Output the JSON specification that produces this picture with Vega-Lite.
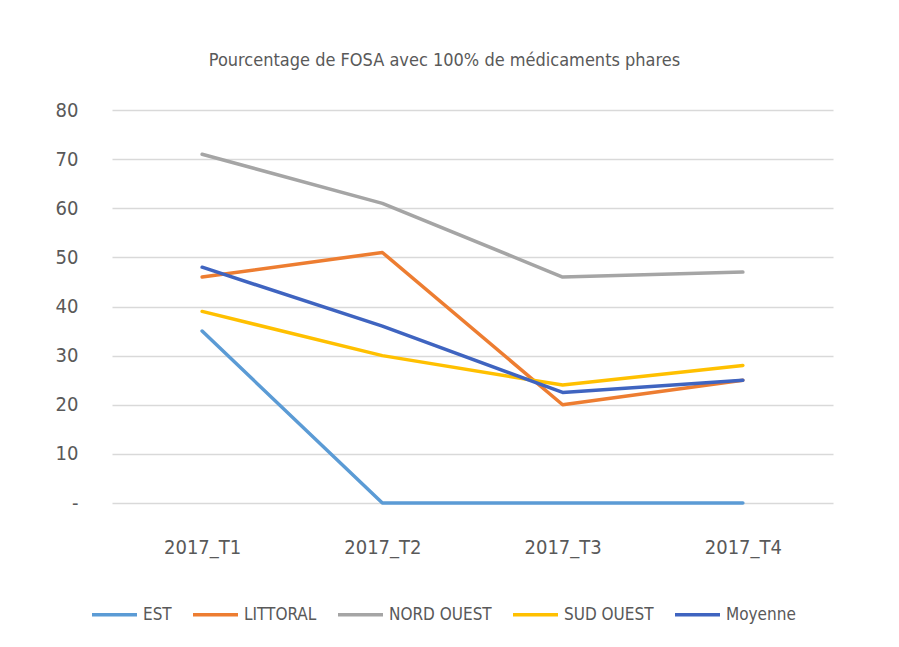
{
  "$schema": "https://vega.github.io/schema/vega-lite/v6.json",
  "autosize": "none",
  "width": 721,
  "height": 393,
  "padding": {"left": 112, "top": 110, "right": 66, "bottom": 144},
  "background": "white",
  "title": {
    "text": "Pourcentage de FOSA avec 100% de médicaments  phares",
    "font": "DejaVu Sans Condensed, sans-serif",
    "fontSize": 18,
    "fontWeight": "normal",
    "color": "#595959",
    "anchor": "middle",
    "dx": -28,
    "offset": 30
  },
  "data": {
    "values": [
      {"periode": "2017_T1", "region": "EST", "valeur": 35},
      {"periode": "2017_T2", "region": "EST", "valeur": 0},
      {"periode": "2017_T3", "region": "EST", "valeur": 0},
      {"periode": "2017_T4", "region": "EST", "valeur": 0},
      {"periode": "2017_T1", "region": "LITTORAL", "valeur": 46},
      {"periode": "2017_T2", "region": "LITTORAL", "valeur": 51},
      {"periode": "2017_T3", "region": "LITTORAL", "valeur": 20},
      {"periode": "2017_T4", "region": "LITTORAL", "valeur": 25},
      {"periode": "2017_T1", "region": "NORD OUEST", "valeur": 71},
      {"periode": "2017_T2", "region": "NORD OUEST", "valeur": 61},
      {"periode": "2017_T3", "region": "NORD OUEST", "valeur": 46},
      {"periode": "2017_T4", "region": "NORD OUEST", "valeur": 47},
      {"periode": "2017_T1", "region": "SUD OUEST", "valeur": 39},
      {"periode": "2017_T2", "region": "SUD OUEST", "valeur": 30},
      {"periode": "2017_T3", "region": "SUD OUEST", "valeur": 24},
      {"periode": "2017_T4", "region": "SUD OUEST", "valeur": 28},
      {"periode": "2017_T1", "region": "Moyenne", "valeur": 48},
      {"periode": "2017_T2", "region": "Moyenne", "valeur": 36},
      {"periode": "2017_T3", "region": "Moyenne", "valeur": 22.5},
      {"periode": "2017_T4", "region": "Moyenne", "valeur": 25}
    ]
  },
  "mark": {"type": "line", "strokeWidth": 3.5, "strokeCap": "round", "strokeJoin": "round"},
  "encoding": {
    "x": {
      "field": "periode",
      "type": "ordinal",
      "scale": {"type": "point", "padding": 0.5},
      "axis": {
        "title": null,
        "domain": false,
        "ticks": false,
        "labelAngle": 0,
        "labelPadding": 34,
        "labelFontSize": 20,
        "labelColor": "#595959",
        "labelFont": "DejaVu Sans Condensed, sans-serif"
      }
    },
    "y": {
      "field": "valeur",
      "type": "quantitative",
      "scale": {"domain": [0, 80]},
      "axis": {
        "title": null,
        "domain": false,
        "ticks": false,
        "values": [0, 10, 20, 30, 40, 50, 60, 70, 80],
        "labelExpr": "datum.value == 0 ? '-' : datum.label",
        "labelPadding": 34,
        "labelFontSize": 20,
        "labelColor": "#595959",
        "labelFont": "DejaVu Sans Condensed, sans-serif",
        "gridColor": "#D9D9D9",
        "gridWidth": 1.5
      }
    },
    "color": {
      "field": "region",
      "type": "nominal",
      "sort": ["EST", "LITTORAL", "NORD OUEST", "SUD OUEST", "Moyenne"],
      "scale": {
        "domain": ["EST", "LITTORAL", "NORD OUEST", "SUD OUEST", "Moyenne"],
        "range": ["#5B9BD5", "#ED7D31", "#A5A5A5", "#FFC000", "#3F64C0"]
      },
      "legend": {
        "title": null,
        "orient": "none",
        "direction": "horizontal",
        "legendX": -22,
        "legendY": 480,
        "symbolType": "stroke",
        "symbolSize": 2025,
        "symbolStrokeWidth": 3.5,
        "labelFontSize": 17,
        "labelColor": "#595959",
        "labelFont": "DejaVu Sans Condensed, sans-serif",
        "columnPadding": 14,
        "labelOffset": 4
      }
    }
  },
  "config": {"view": {"stroke": null}}
}
